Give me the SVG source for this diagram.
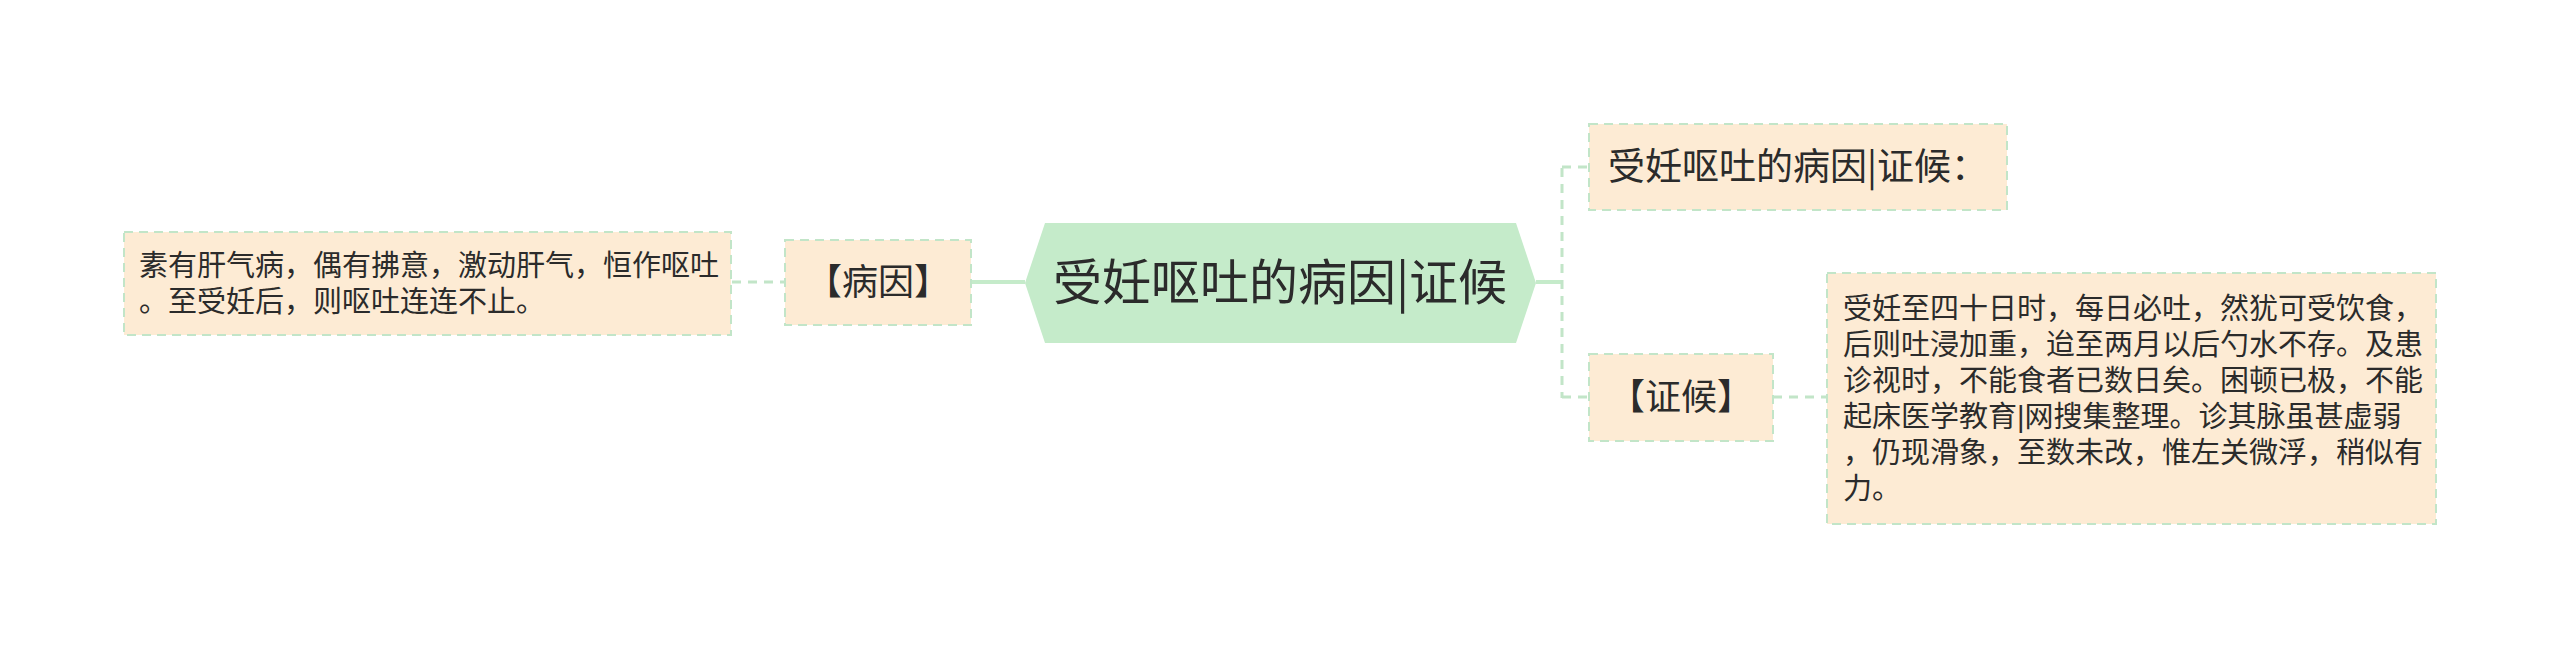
<svg xmlns="http://www.w3.org/2000/svg" width="2560" height="649" viewBox="0 0 2560 649">
<style>
.box{fill:#fdebd4;stroke:#c2e5c8;stroke-width:2;stroke-dasharray:9 6}
.t{font-family:"Noto Sans CJK SC","Noto Sans",sans-serif;fill:#2b2b2b}
.p{font-family:"Liberation Sans","Noto Sans CJK SC",sans-serif;fill:#2b2b2b;font-size:29px}
.m{font-size:36px}
.dash{fill:none;stroke:#c2e5c8;stroke-width:3;stroke-dasharray:9 7}
.solid{fill:none;stroke:#c5ebca;stroke-width:4}
</style>
<rect width="2560" height="649" fill="#ffffff"/>
<g id="connectors">
<path class="dash" d="M732 282 H785"/>
<path class="solid" d="M971 282 H1025"/>
<path class="solid" d="M1536 282 H1562"/>
<path class="dash" d="M1562 168 V398"/>
<path class="dash" d="M1562 167 H1589"/>
<path class="dash" d="M1562 397 H1589"/>
<path class="dash" d="M1773 397 H1827"/>
</g>
<g id="root">
<polygon points="1025,283 1045,223 1516,223 1536,283 1516,343 1045,343" fill="#c5ebca"/>
<text class="t" x="1280" y="300" font-size="49" text-anchor="middle">受妊呕吐的病因|证候</text>
</g>
<g id="cause-label">
<rect class="box" x="785" y="240" width="186" height="85"/>
<text class="t m" x="878" y="295" text-anchor="middle">【病因】</text>
</g>
<g id="cause-text">
<rect class="box" x="124" y="232" width="607" height="103"/>
<text class="p" x="139" y="276">素有肝气病，偶有拂意，激动肝气，恒作呕吐<tspan x="139" dy="36">。至受妊后，则呕吐连连不止。</tspan></text>
</g>
<g id="title-right">
<rect class="box" x="1589" y="124" width="418" height="86"/>
<text class="t" x="1608" y="180" font-size="37">受妊呕吐的病因|证候：</text>
</g>
<g id="symptom-label">
<rect class="box" x="1589" y="354" width="184" height="87"/>
<text class="t m" x="1681" y="410" text-anchor="middle">【证候】</text>
</g>
<g id="symptom-text">
<rect class="box" x="1827" y="273" width="609" height="251"/>
<text class="p" x="1843" y="319">受妊至四十日时，每日必吐，然犹可受饮食，<tspan x="1843" dy="36">后则吐浸加重，迨至两月以后勺水不存。及患</tspan><tspan x="1843" dy="36">诊视时，不能食者已数日矣。困顿已极，不能</tspan><tspan x="1843" dy="36">起床医学教育|网搜集整理。诊其脉虽甚虚弱</tspan><tspan x="1843" dy="36">，仍现滑象，至数未改，惟左关微浮，稍似有</tspan><tspan x="1843" dy="36">力。</tspan></text>
</g>
</svg>
